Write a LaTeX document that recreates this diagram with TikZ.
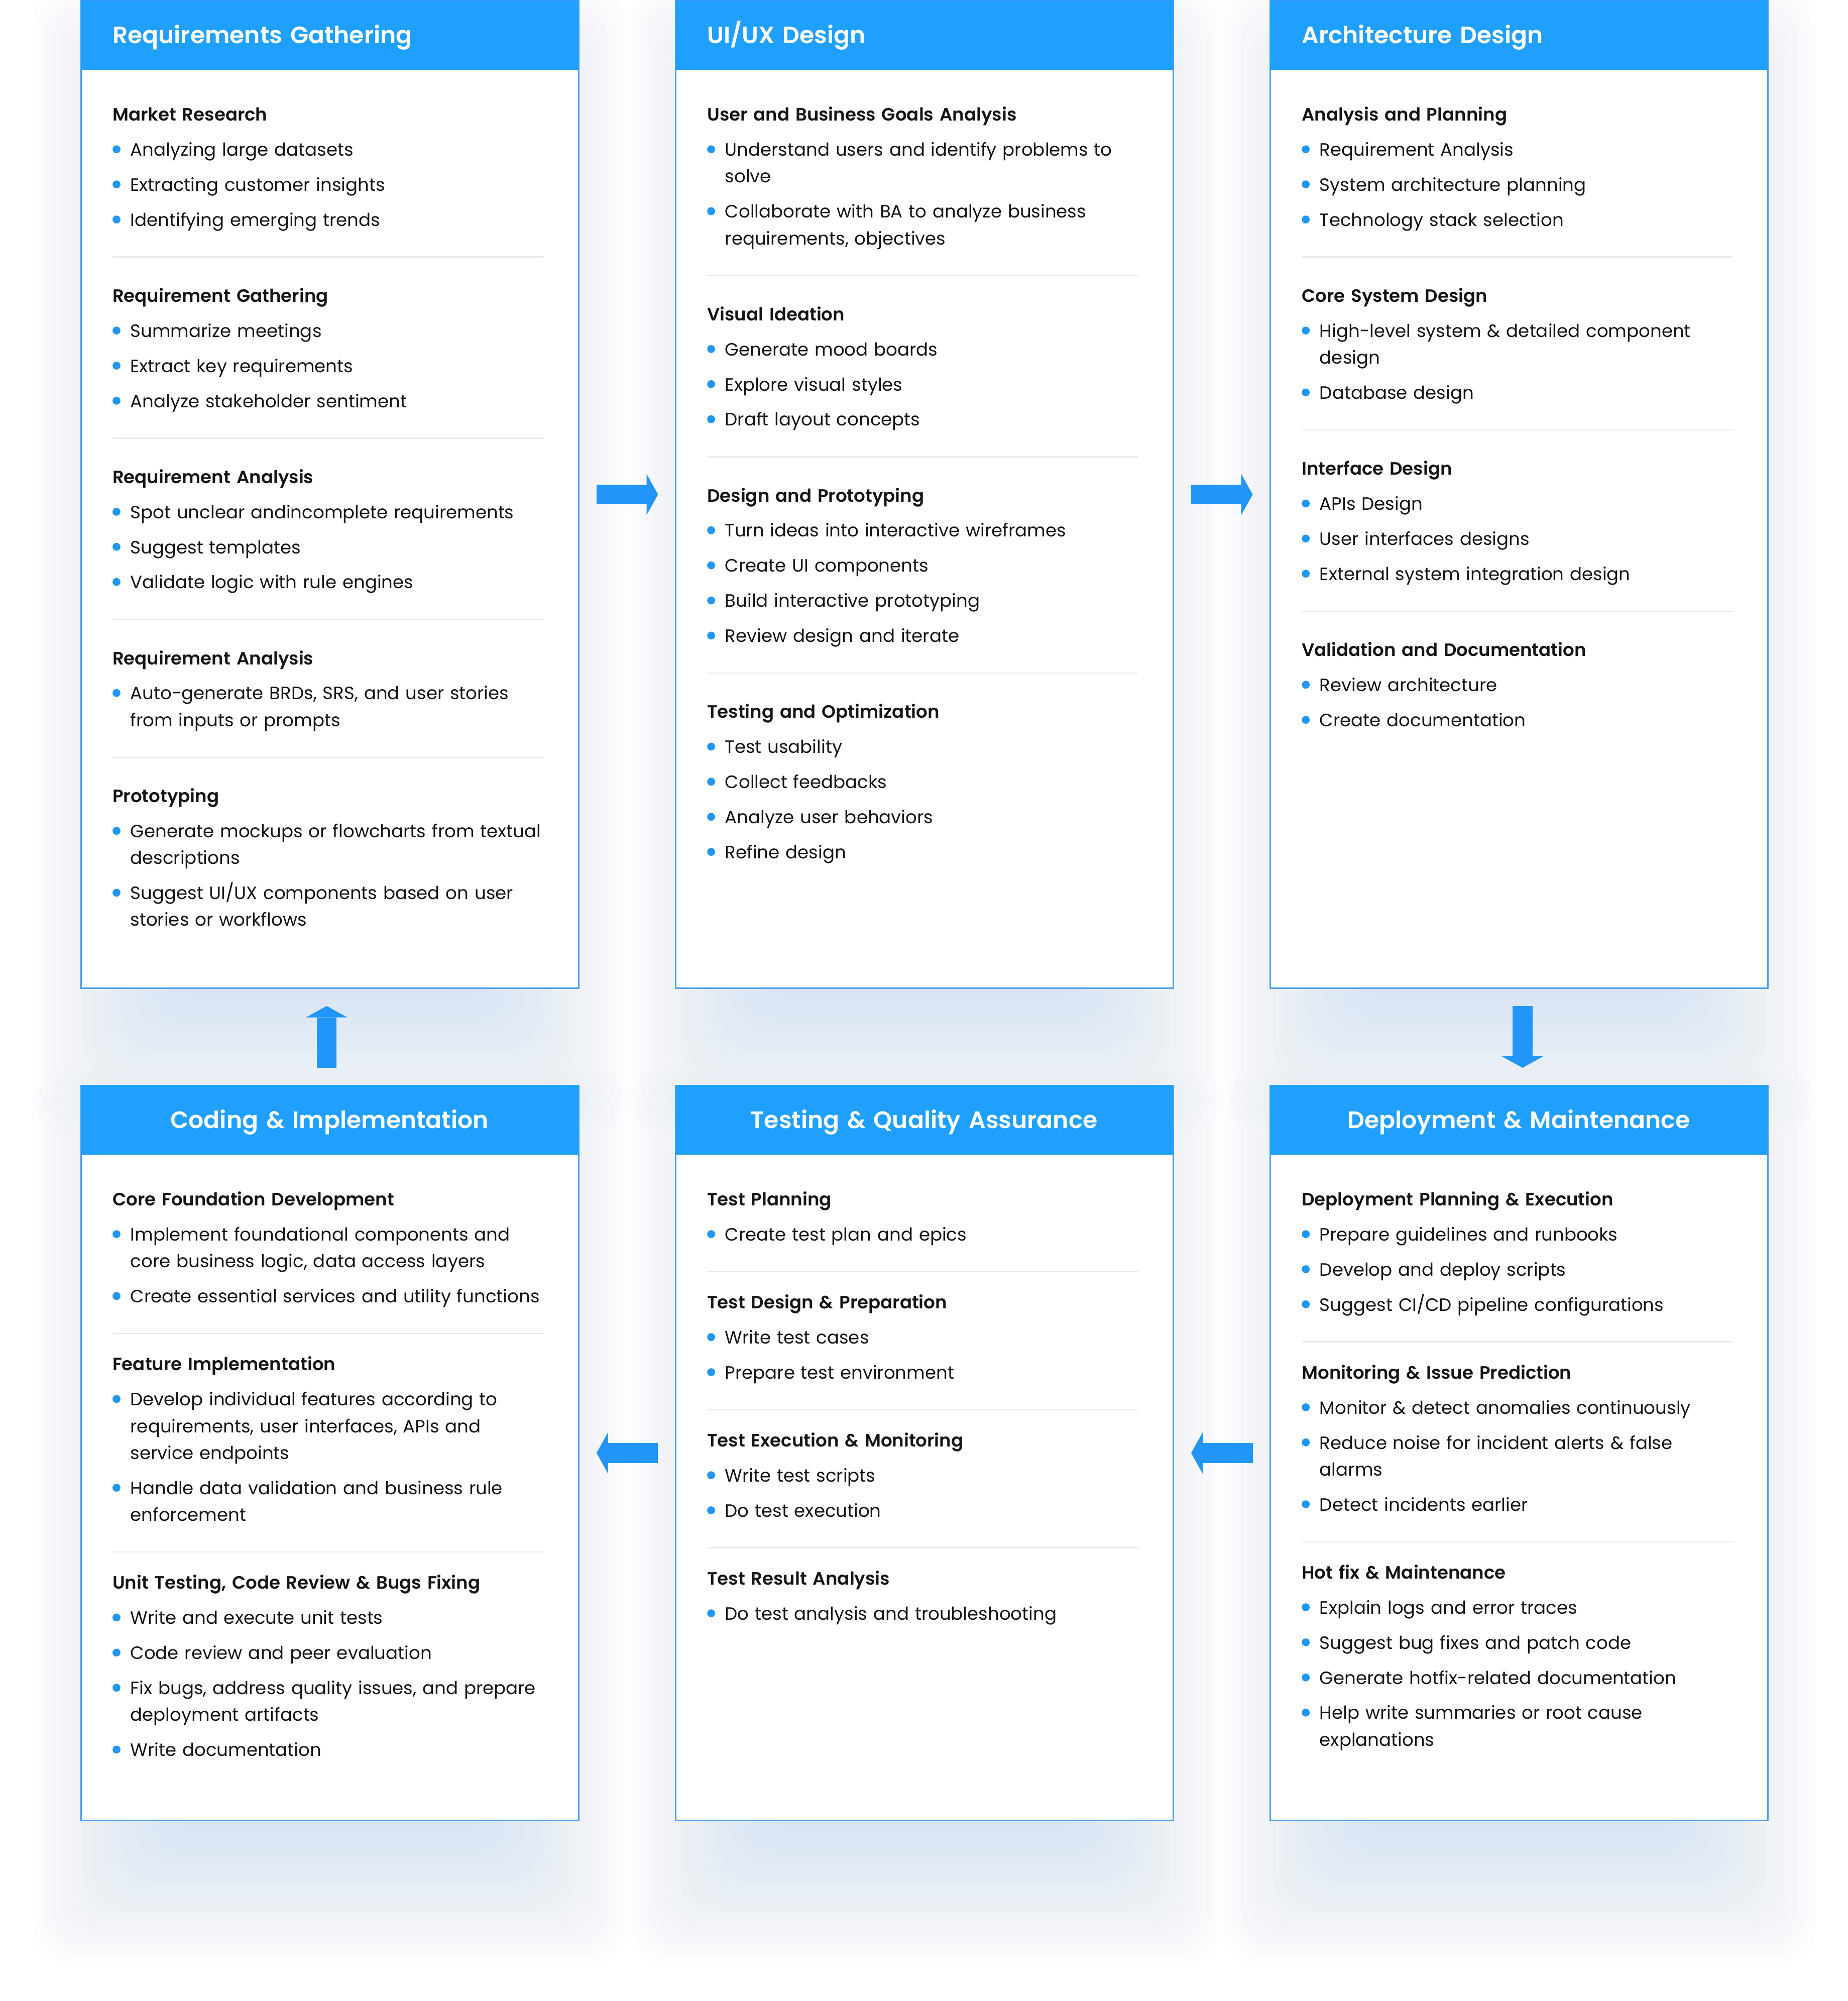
\documentclass[tikz,border=0pt]{standalone}
\usepackage{fontspec}
\IfFontExistsTF{Poppins SemiBold}
  {\setmainfont{Poppins}[BoldFont={Poppins SemiBold}]}
  {\setmainfont{Poppins}}
\usetikzlibrary{calc,arrows.meta}
\definecolor{headblue}{HTML}{1FA0FF}
\definecolor{arrowblue}{HTML}{2196F8}
\definecolor{dotblue}{HTML}{2196F3}
\definecolor{edgeblue}{HTML}{4D9FF0}
\definecolor{sepgray}{HTML}{EAEAEA}
\definecolor{glowblue}{HTML}{BACBF5}
\definecolor{ink}{HTML}{141414}
\pgfdeclarelayer{bottom}
\pgfdeclarelayer{background}
\pgfsetlayers{bottom,background,main}
\newcommand{\dotmark}{\tikz[baseline=0pt]\fill[dotblue](3.1pt,5.2pt)circle(3.1pt);}
\newcommand{\phead}[1]{\par\noindent\rule{0pt}{15pt}\textbf{#1}\par\vspace{6.5pt}}
\newcommand{\pitem}[1]{\par{\leftskip=14pt\noindent\llap{\makebox[14pt][l]{\dotmark}}#1\par}\vspace{6.5pt}}
\newcommand{\prule}[1]{\par\vspace{-2.8pt}\noindent{\color{sepgray}\rule{338pt}{1pt}}\par\vspace{#1}}

\begin{document}
\begin{tikzpicture}[x=1pt, y=-1pt,
  stage/.style={anchor=north west, draw=edgeblue, line width=1.2pt, fill=white,
                minimum width=390pt, inner sep=0pt},
  headL/.style={anchor=north west, fill=headblue, text=white, inner xsep=25pt,
                inner ysep=0pt, text width=340pt, minimum height=54.7pt, align=left,
                text height=13pt, text depth=0pt,
                font=\fontsize{18.6}{22}\selectfont\bfseries},
  headC/.style={headL, align=center},
  body/.style={anchor=north west, inner sep=0pt, text width=400pt, text=ink,
               font=\fontsize{14}{21}\selectfont,
               execute at begin node={\raggedright\lineskiplimit=-\maxdimen\parskip=0pt}},
  flow/.style={arrowblue, line width=15.7pt, shorten <=13.3pt, shorten >=13.3pt,
               -{Triangle[length=9pt,width=32.3pt,line width=0pt]}},
  glow/.style={fill=glowblue, fill opacity=0.025, rounded corners=30pt}]

\useasboundingbox (0,0) rectangle (1448.2,1567.9);

%top row
\node[stage, minimum height=773.7pt] (req)  at (63,0)  {};
\node[stage, minimum height=773.7pt] (uiux) at (529,0) {};
\node[stage, minimum height=773.7pt] (arch) at (995,0) {};
%bottom row
\node[stage, minimum height=575.8pt] (code)   at (63,850)  {};
\node[stage, minimum height=575.8pt] (test)   at (529,850) {};
\node[stage, minimum height=575.8pt] (deploy) at (995,850) {};

%headers
\node[headL] (reqhead)    at (req.north west)    {Requirements Gathering};
\node[headL] (uiuxhead)   at (uiux.north west)   {UI/UX Design};
\node[headL] (archhead)   at (arch.north west)   {Architecture Design};
\node[headC] (codehead)   at (code.north west)   {Coding \& Implementation};
\node[headC] (testhead)   at (test.north west)   {Testing \& Quality Assurance};
\node[headC] (deployhead) at (deploy.north west) {Deployment \& Maintenance};

%requirements gathering
\node[body] (reqtxt) at ($(req.north west)+(25,73.5)$) {%
\phead{Market Research}
\pitem{Analyzing large datasets}
\pitem{Extracting customer insights}
\pitem{Identifying emerging trends}
\prule{13.8pt}
\phead{Requirement Gathering}
\pitem{Summarize meetings}
\pitem{Extract key requirements}
\pitem{Analyze stakeholder sentiment}
\prule{13.8pt}
\phead{Requirement Analysis}
\pitem{Spot unclear andincomplete requirements}
\pitem{Suggest templates}
\pitem{Validate logic with rule engines}
\prule{13.8pt}
\phead{Requirement Analysis}
\pitem{Auto-generate BRDs, SRS, and user stories\newline from inputs or prompts}
\prule{13.8pt}
\phead{Prototyping}
\pitem{Generate mockups or flowcharts from textual\newline descriptions}
\pitem{Suggest UI/UX components based on user\newline stories or workflows}};

%ui/ux design
\node[body] (uiuxtxt) at ($(uiux.north west)+(25,73.5)$) {%
\phead{User and Business Goals Analysis}
\pitem{Understand users and identify problems to\newline solve}
\pitem{Collaborate with BA to analyze business\newline requirements, objectives}
\prule{13.8pt}
\phead{Visual Ideation}
\pitem{Generate mood boards}
\pitem{Explore visual styles}
\pitem{Draft layout concepts}
\prule{13.8pt}
\phead{Design and Prototyping}
\pitem{Turn ideas into interactive wireframes}
\pitem{Create UI components}
\pitem{Build interactive prototyping}
\pitem{Review design and iterate}
\prule{13.8pt}
\phead{Testing and Optimization}
\pitem{Test usability}
\pitem{Collect feedbacks}
\pitem{Analyze user behaviors}
\pitem{Refine design}};

%architecture design
\node[body] (archtxt) at ($(arch.north west)+(25,73.5)$) {%
\phead{Analysis and Planning}
\pitem{Requirement Analysis}
\pitem{System architecture planning}
\pitem{Technology stack selection}
\prule{13.8pt}
\phead{Core System Design}
\pitem{High-level system \& detailed component\newline design}
\pitem{Database design}
\prule{13.8pt}
\phead{Interface Design}
\pitem{APIs Design}
\pitem{User interfaces designs}
\pitem{External system integration design}
\prule{13.8pt}
\phead{Validation and Documentation}
\pitem{Review architecture}
\pitem{Create documentation}};

%coding
\node[body] (codetxt) at ($(code.north west)+(25,73.5)$) {%
\phead{Core Foundation Development}
\pitem{Implement foundational components and\newline core business logic, data access layers}
\pitem{Create essential services and utility functions}
\prule{7.5pt}
\phead{Feature Implementation}
\pitem{Develop individual features according to\newline requirements, user interfaces, APIs and\newline service endpoints}
\pitem{Handle data validation and business rule\newline enforcement}
\prule{7.5pt}
\phead{Unit Testing, Code Review \& Bugs Fixing}
\pitem{Write and execute unit tests}
\pitem{Code review and peer evaluation}
\pitem{Fix bugs, address quality issues, and prepare\newline deployment artifacts}
\pitem{Write documentation}};

%testing
\node[body] (testtxt) at ($(test.north west)+(25,73.5)$) {%
\phead{Test Planning}
\pitem{Create test plan and epics}
\prule{7.5pt}
\phead{Test Design \& Preparation}
\pitem{Write test cases}
\pitem{Prepare test environment}
\prule{7.5pt}
\phead{Test Execution \& Monitoring}
\pitem{Write test scripts}
\pitem{Do test execution}
\prule{7.5pt}
\phead{Test Result Analysis}
\pitem{Do test analysis and troubleshooting}};

%deployment
\node[body] (deploytxt) at ($(deploy.north west)+(25,73.5)$) {%
\phead{Deployment Planning \& Execution}
\pitem{Prepare guidelines and runbooks}
\pitem{Develop and deploy scripts}
\pitem{Suggest CI/CD pipeline configurations}
\prule{7.5pt}
\phead{Monitoring \& Issue Prediction}
\pitem{Monitor \& detect anomalies continuously}
\pitem{Reduce noise for incident alerts \& false\newline alarms}
\pitem{Detect incidents earlier}
\prule{7.5pt}
\phead{Hot fix \& Maintenance}
\pitem{Explain logs and error traces}
\pitem{Suggest bug fixes and patch code}
\pitem{Generate hotfix-related documentation}
\pitem{Help write summaries or root cause\newline explanations}};

%flow arrows
\draw[flow] (req.east) -- (uiux.west);
\draw[flow] (uiux.east) -- (arch.west);
\draw[flow] ([xshift=2.6pt]arch.south) -- ([xshift=2.6pt]deploy.north);
\draw[flow] (deploy.west) -- (test.east);
\draw[flow] (test.west) -- (code.east);
\draw[flow] ([xshift=-2.6pt]code.north) -- ([xshift=-2.6pt]req.south);

%soft shadow
\begin{pgfonlayer}{background}
\foreach \bx in {req,uiux,arch,code,test,deploy}
  \foreach \i in {1,...,26}
    \fill[glow] ($(\bx.north west)+(92.5-5*\i,117.5-5*\i)$) rectangle ($(\bx.south east)+(5*\i-92.5,5*\i-17.5)$);
\end{pgfonlayer}
\begin{pgfonlayer}{bottom}
\fill[white] (0,0) rectangle (1448.2,1567.9);
\end{pgfonlayer}

\end{tikzpicture}
\end{document}
